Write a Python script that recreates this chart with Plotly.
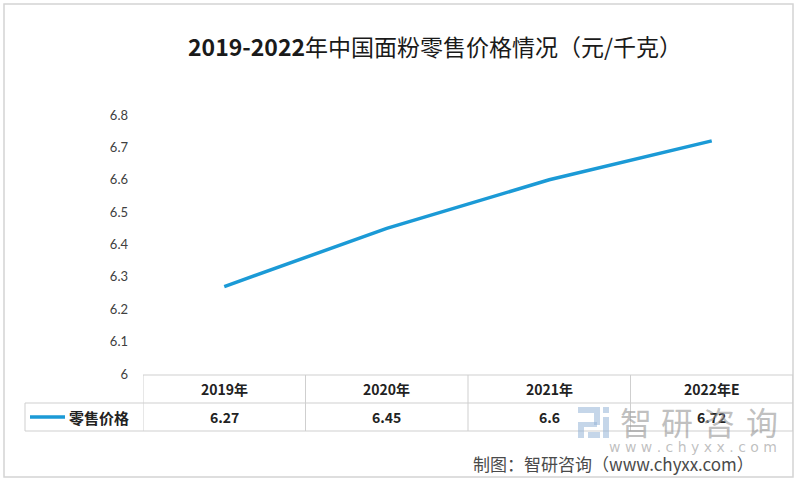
import plotly.graph_objects as go

# ---- data ----
categories = ["2019年", "2020年", "2021年", "2022年E"]
values = [6.27, 6.45, 6.6, 6.72]
value_labels = ["6.27", "6.45", "6.6", "6.72"]
series_name = "零售价格"
title_text = "<b>2019-2022</b>年中国面粉零售价格情况（元/千克）"
source_text = "制图：智研咨询（www.chyxx.com）"
watermark_chars = ["智", "研", "咨", "询"]
watermark_url = "w w w . c h y x x . c o m"

W, H = 800, 483
L, R, T, B = 143, 7, 115, 109
PW, PH = W - L - R, H - T - B

def px(x):
    return (x - L) / PW

def py(y):
    return (H - B - y) / PH

LINE_COLOR = "#1b9ad6"
GRID = "#cfcfcf"

fig = go.Figure()
fig.add_trace(go.Scatter(
    x=list(range(len(categories))), y=values, mode="lines",
    line=dict(color=LINE_COLOR, width=3.5), name=series_name, showlegend=False,
    hoverinfo="skip"))

shapes = []
# outer frame
shapes.append(dict(type="rect", xref="paper", yref="paper",
                   x0=px(4), x1=px(793), y0=py(477), y1=py(4),
                   line=dict(color="#d4d4d4", width=1.5), layer="below"))
# table lines
y_top, y_mid, y_bot = py(375), py(403), py(431)
shapes.append(dict(type="line", xref="x", yref="paper", x0=-0.5, x1=len(categories) - 0.5,
                   y0=y_top, y1=y_top, line=dict(color=GRID, width=1)))
for yy in (y_mid, y_bot):
    shapes.append(dict(type="line", xref="paper", yref="paper", x0=px(25), x1=1,
                       y0=yy, y1=yy, line=dict(color=GRID, width=1)))
for i in range(len(categories) + 1):
    shapes.append(dict(type="line", xref="x", yref="paper", x0=i - 0.5, x1=i - 0.5,
                       y0=y_top, y1=y_bot, line=dict(color=GRID, width=1)))
shapes.append(dict(type="line", xref="paper", yref="paper", x0=px(25), x1=px(25),
                   y0=y_mid, y1=y_bot, line=dict(color=GRID, width=1)))
# legend sample line
shapes.append(dict(type="line", xref="paper", yref="paper", x0=px(30), x1=px(65),
                   y0=py(417), y1=py(417), line=dict(color=LINE_COLOR, width=3.5)))
# watermark icon (approximate)
wm = "rgba(150,180,215,0.55)"
for (x0, y0, x1, y1) in [(578, 407, 600, 413), (594, 413, 600, 425), (578, 422, 597, 427),
                         (578, 427, 584, 438), (603, 407, 609, 413), (603, 417, 609, 438),
                         (588, 432, 600, 438)]:
    shapes.append(dict(type="rect", xref="paper", yref="paper",
                       x0=px(x0), x1=px(x1), y0=py(y1), y1=py(y0),
                       line=dict(width=0), fillcolor=wm, layer="above"))

annotations = []
annotations.append(dict(text=title_text, xref="paper", yref="paper", x=px(435), y=py(46),
                        showarrow=False, xanchor="center", yanchor="middle",
                        font=dict(size=23, color="#1a1a1a", family="Noto Sans CJK SC")))
for i, (c, v) in enumerate(zip(categories, value_labels)):
    annotations.append(dict(text="<b>%s</b>" % c, xref="x", yref="paper", x=i, y=py(389),
                            showarrow=False, xanchor="center", yanchor="middle",
                            font=dict(size=14, color="#222222", family="Noto Sans CJK SC")))
    annotations.append(dict(text="<b>%s</b>" % v, xref="x", yref="paper", x=i, y=py(417),
                            showarrow=False, xanchor="center", yanchor="middle",
                            font=dict(size=14, color="#222222", family="Noto Sans CJK SC")))
annotations.append(dict(text="<b>%s</b>" % series_name, xref="paper", yref="paper",
                        x=px(67), y=py(417), showarrow=False, xanchor="left", yanchor="middle",
                        font=dict(size=15, color="#222222", family="Noto Sans CJK SC")))
# watermark text
for ch, cx in zip(watermark_chars, (636, 677, 719, 762)):
    annotations.append(dict(text=ch, xref="paper", yref="paper", x=px(cx), y=py(421),
                            showarrow=False, xanchor="center", yanchor="middle",
                            font=dict(size=32, color="rgba(150,150,150,0.6)",
                                      family="Noto Sans CJK SC")))
annotations.append(dict(text=watermark_url.replace(" ", "\u00a0"), xref="paper", yref="paper",
                        x=px(693), y=py(447), showarrow=False, xanchor="center", yanchor="middle",
                        font=dict(size=14, color="rgba(150,150,150,0.6)", family="DejaVu Sans")))
annotations.append(dict(text=source_text, xref="paper", yref="paper", x=px(613), y=py(463),
                        showarrow=False, xanchor="center", yanchor="middle",
                        font=dict(size=17, color="#4a4a4a", family="Noto Sans CJK SC")))

fig.update_layout(
    width=W, height=H, margin=dict(l=L, r=R, t=T, b=B),
    paper_bgcolor="white", plot_bgcolor="white",
    xaxis=dict(range=[-0.5, len(categories) - 0.5], showticklabels=False, showgrid=False,
               zeroline=False, showline=False, fixedrange=True),
    yaxis=dict(range=[6, 6.8], dtick=0.1, tick0=6, showgrid=False, zeroline=False,
               showline=False, ticks="", ticklabelstandoff=14,
               tickfont=dict(size=13, color="#404040", family="Lato")),
    shapes=shapes, annotations=annotations, showlegend=False,
)

fig.write_html("out.html")
